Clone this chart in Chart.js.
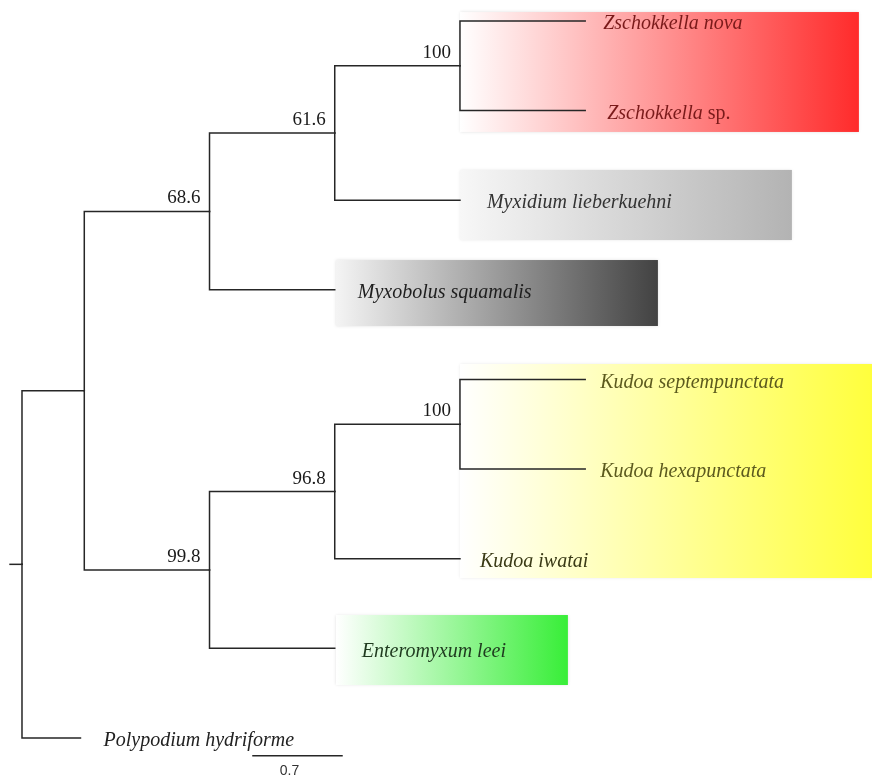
<!DOCTYPE html>
<html>
<head>
<meta charset="utf-8">
<title>Myxozoa phylogeny</title>
<script src="https://cdn.jsdelivr.net/npm/chart.js@4.4.1/dist/chart.umd.min.js"></script>
<style>
  html, body { margin: 0; padding: 0; background: #ffffff; }
  #wrap { position: relative; width: 872px; height: 781px; }
</style>
</head>
<body>
<div id="wrap"><canvas id="tree"></canvas></div>
<script>
// ---- Tree data -------------------------------------------------------
// Terminal taxa, top to bottom
const tipNames = [
  'Zschokkella nova',
  'Zschokkella sp.',
  'Myxidium lieberkuehni',
  'Myxobolus squamalis',
  'Kudoa septempunctata',
  'Kudoa hexapunctata',
  'Kudoa iwatai',
  'Enteromyxum leei',
  'Polypodium hydriforme'
];

// Every node of the tree: parent index, branch length, tip index (-1 = internal)
const nodeParents   = [-1, 0, 1, 2, 3, 4, 4, 3, 2, 1, 9, 10, 11, 11, 10, 9, 0];
const branchLengths = [0, 0.49, 0.985, 0.985, 0.985, 0.985, 0.985, 0.985, 0.985,
                       0.985, 0.985, 0.985, 0.985, 0.985, 0.985, 0.985, 0.46];
const nodeTips      = [-1, -1, -1, -1, -1, 0, 1, 2, 3, -1, -1, -1, 4, 5, 6, 7, 8];

// Bootstrap support at internal nodes
const bootstrap     = [null, null, 68.6, 61.6, 100, null, null, null, null,
                       99.8, 96.8, 100, null, null, null, null, null];

// Scale bar (substitutions per site)
const scaleBarLength = 0.7;
const scaleBarLabel  = '0.7';

// ---- Styling ---------------------------------------------------------
const lineColor = '#262626';
const tipColors = ['#7a1a1a', '#7a1a1a', '#333333', '#1e1e1e',
                   '#5c5a1e', '#5c5a1e', '#3a3a16', '#1f3a1f', '#222222'];
// extra horizontal gap (px) between a branch tip and its name
const tipGap = [18, 22, 27, 23, 15, 15, 20, 27, 23];

// Shaded clade panels (axis units: x = branch length, y = tip rank)
const cladeBoxes = [
  { x0: 3.445, x1: 6.583, y0: -0.100, y1: 1.238, from: '#ffffff', to: '#ff2b2b' },
  { x0: 3.445, x1: 6.056, y0: 1.662,  y1: 2.444, from: '#f7f7f7', to: '#b3b3b3' },
  { x0: 2.470, x1: 5.002, y0: 2.667,  y1: 3.403, from: '#f4f4f4', to: '#424242' },
  { x0: 3.445, x1: 6.700, y0: 3.827,  y1: 6.215, from: '#ffffff', to: '#ffff3c' },
  { x0: 2.470, x1: 4.294, y0: 6.628,  y1: 7.409, from: '#ffffff', to: '#38ee38' }
];

// ---- Layout from the tree ---------------------------------------------
const N = nodeParents.length;
const nodeX = new Array(N).fill(0);
const nodeY = new Array(N).fill(0);
const children = Array.from({ length: N }, () => []);
for (let i = 1; i < N; i++) children[nodeParents[i]].push(i);

(function placeX(i, x) {
  nodeX[i] = x + branchLengths[i];
  children[i].forEach(c => placeX(c, nodeX[i]));
})(0, 0);

(function placeY(i) {
  if (nodeTips[i] >= 0) { nodeY[i] = nodeTips[i]; return nodeY[i]; }
  const ys = children[i].map(placeY);
  nodeY[i] = ys.reduce((a, b) => a + b, 0) / ys.length;
  return nodeY[i];
})(0);

// One elbow path per branch
const branchSets = [];
for (let i = 1; i < N; i++) {
  const p = nodeParents[i];
  branchSets.push({
    data: [
      { x: nodeX[p], y: nodeY[p] },
      { x: nodeX[p], y: nodeY[i] },
      { x: nodeX[i], y: nodeY[i] }
    ]
  });
}
// Short root stub
branchSets.push({ data: [ { x: -0.094, y: nodeY[0] }, { x: 0, y: nodeY[0] } ] });
// Scale bar
const scaleBarX = 1.817, scaleBarY = 8.197;
branchSets.push({ data: [ { x: scaleBarX, y: scaleBarY }, { x: scaleBarX + scaleBarLength, y: scaleBarY } ] });

const datasets = branchSets.map(s => Object.assign({
  showLine: true,
  borderColor: lineColor,
  borderWidth: 1.5,
  borderJoinStyle: 'miter',
  borderCapStyle: 'square',
  pointRadius: 0,
  pointHoverRadius: 0,
  tension: 0,
  fill: false
}, s));

// ---- Plugins ------------------------------------------------------------
const cladeShading = {
  id: 'cladeShading',
  beforeDatasetsDraw(chart) {
    const { ctx, scales: { x, y } } = chart;
    ctx.save();
    cladeBoxes.forEach(b => {
      const l = x.getPixelForValue(b.x0), r = x.getPixelForValue(b.x1);
      const t = y.getPixelForValue(b.y0), btm = y.getPixelForValue(b.y1);
      const g = ctx.createLinearGradient(l, 0, r, 0);
      g.addColorStop(0, b.from);
      g.addColorStop(1, b.to);
      ctx.fillStyle = g;
      ctx.shadowColor = 'rgba(0,0,0,0.12)';
      ctx.shadowBlur = 3;
      ctx.fillRect(l, t, r - l, btm - t);
    });
    ctx.restore();
  }
};

const tipFont = 'italic 20px "Liberation Serif"';
const tipFontUpright = '20px "Liberation Serif"';

const treeText = {
  id: 'treeText',
  afterDatasetsDraw(chart) {
    const { ctx, scales: { x, y } } = chart;
    ctx.save();
    // Taxon names
    ctx.textBaseline = 'middle';
    ctx.textAlign = 'left';
    for (let i = 0; i < N; i++) {
      const t = nodeTips[i];
      if (t < 0) continue;
      const px = x.getPixelForValue(nodeX[i]) + tipGap[t];
      const py = y.getPixelForValue(nodeY[i]) + 3;
      const name = tipNames[t];
      ctx.fillStyle = tipColors[t];
      if (name.endsWith(' sp.')) {
        const genus = name.slice(0, -4);
        ctx.font = tipFont;
        ctx.fillText(genus, px, py);
        const w = ctx.measureText(genus + ' ').width;
        ctx.font = tipFontUpright;
        ctx.fillText('sp.', px + w, py);
      } else {
        ctx.font = tipFont;
        ctx.fillText(name, px, py);
      }
    }
    // Bootstrap values
    ctx.font = '19px "Liberation Serif"';
    ctx.fillStyle = '#1a1a1a';
    ctx.textAlign = 'right';
    ctx.textBaseline = 'alphabetic';
    for (let i = 0; i < N; i++) {
      if (bootstrap[i] == null) continue;
      ctx.fillText(String(bootstrap[i]), x.getPixelForValue(nodeX[i]) - 9, y.getPixelForValue(nodeY[i]) - 8);
    }
    // Scale bar label
    ctx.font = '14px "Liberation Sans"';
    ctx.fillStyle = '#333333';
    ctx.textAlign = 'center';
    ctx.textBaseline = 'middle';
    ctx.fillText(scaleBarLabel,
      (x.getPixelForValue(scaleBarX) + x.getPixelForValue(scaleBarX + scaleBarLength)) / 2 - 8,
      y.getPixelForValue(scaleBarY) + 16);
    ctx.restore();
  }
};

new Chart(document.getElementById('tree'), {
  type: 'scatter',
  data: { datasets },
  options: {
    responsive: true,
    maintainAspectRatio: false,
    animation: false,
    events: [],
    layout: { padding: 0 },
    scales: {
      x: { type: 'linear', min: -0.173, max: 6.686, display: false },
      y: { type: 'linear', min: -0.2343, max: 8.480, reverse: true, display: false }
    },
    plugins: {
      legend: { display: false },
      tooltip: { enabled: false }
    }
  },
  plugins: [cladeShading, treeText]
});
</script>
</body>
</html>
